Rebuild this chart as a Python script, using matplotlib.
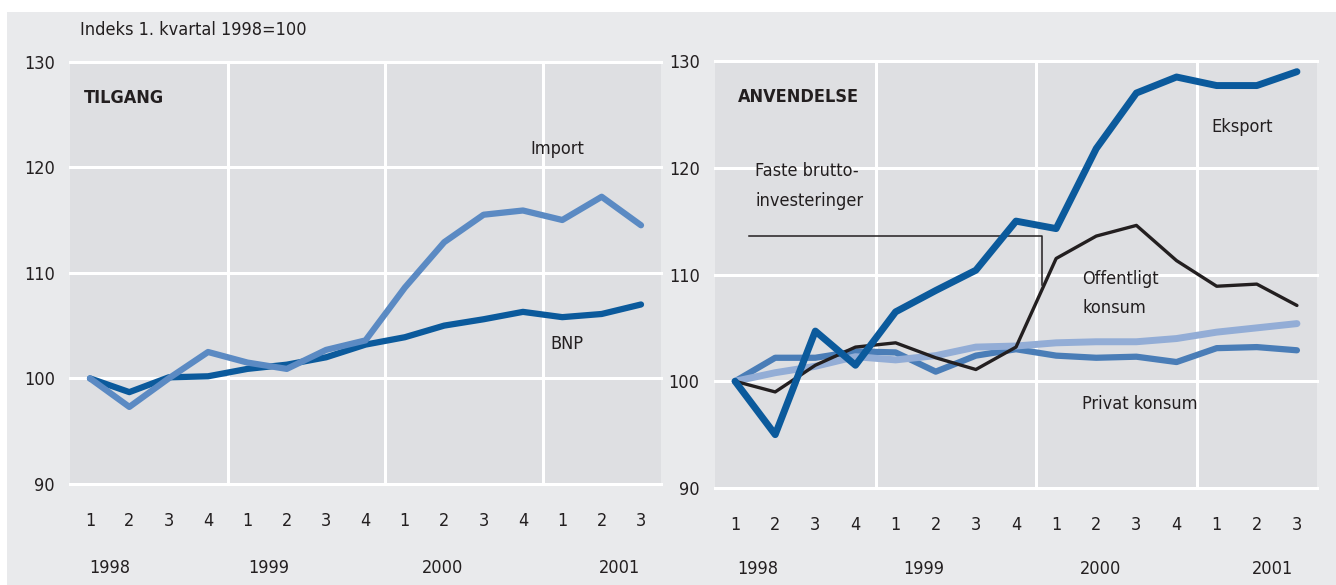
import numpy as np
import matplotlib
matplotlib.use('Agg')
import matplotlib.pyplot as plt
from matplotlib.patches import Rectangle

plt.rcParams['font.family'] = ['DejaVu Sans']
plt.rcParams['font.stretch'] = 'condensed'

# Quarters 1998 Q1 - 2001 Q3
quarters = ['1', '2', '3', '4', '1', '2', '3', '4', '1', '2', '3', '4', '1', '2', '3']
years = ['1998', '1999', '2000', '2001']

# TILGANG
bnp = [100, 98.7, 100.1, 100.2, 100.9, 101.3, 102.0, 103.2, 103.9, 105.0, 105.6, 106.3, 105.8, 106.1, 107.0]
imp = [100, 97.3, 100.0, 102.5, 101.5, 100.9, 102.7, 103.6, 108.6, 112.9, 115.5, 115.9, 115.0, 117.2, 114.5]

# ANVENDELSE
eksport = [100, 95.0, 104.7, 101.5, 106.5, 108.5, 110.4, 115.0, 114.3, 121.8, 127.0, 128.5, 127.7, 127.7, 129.0]
faste_inv = [100, 99.0, 101.5, 103.2, 103.6, 102.2, 101.1, 103.2, 111.5, 113.6, 114.6, 111.3, 108.9, 109.1, 107.1]
offentlig = [100, 102.2, 102.2, 102.8, 102.7, 100.9, 102.4, 103.0, 102.4, 102.2, 102.3, 101.8, 103.1, 103.2, 102.9]
privat = [100, 100.8, 101.4, 102.3, 102.0, 102.4, 103.2, 103.3, 103.6, 103.7, 103.7, 104.0, 104.6, 105.0, 105.4]

x = np.arange(len(quarters))

W, H = 1336, 585
fig = plt.figure(figsize=(W / 100, H / 100), dpi=100)
fig.patch.set_facecolor('white')
fig.patches.append(Rectangle((7 / W, 0), 1 - 7 / W, 1 - 12 / H, transform=fig.transFigure,
                             facecolor='#e9eaec', edgecolor='none', zorder=-10))

dark = '#0b5a9c'
mid = '#5b8ac3'
mid2 = '#4a7db7'
light = '#93add6'
black = '#231f20'
txt = '#231f20'
fs = 13


def setup(ax, year_pos, year_y):
    ax.set_facecolor('#dedfe2')
    ax.set_xlim(-0.5, 14.5)
    ax.set_ylim(90, 130)
    for s in ax.spines.values():
        s.set_visible(False)
    for gx in [3.5, 7.5, 11.5]:
        ax.axvline(gx, color='white', lw=2.2, zorder=1)
    for gy in [90, 100, 110, 120, 130]:
        ax.axhline(gy, color='white', lw=2.2, zorder=1, clip_on=False)
    ax.set_yticks([90, 100, 110, 120, 130])
    ax.set_xticks(x)
    ax.set_xticklabels(quarters)
    ax.tick_params(length=0, labelsize=fs, colors=txt)
    ax.tick_params(axis='y', pad=11)
    ax.tick_params(axis='x', pad=20)
    for yp, yr in zip(year_pos, years):
        ax.text(yp, year_y, yr, transform=ax.get_xaxis_transform(), ha='center', va='center',
                fontsize=fs, color=txt)


# Left panel
ax1 = fig.add_axes([70.3 / W, 1 - 484 / H, 590.4 / W, 422.4 / H])
setup(ax1, [0.5, 4.55, 8.95, 13.45], -0.2)
ax1.plot(x, bnp, color=dark, lw=4.5, solid_capstyle='round', solid_joinstyle='round', zorder=3)
ax1.plot(x, imp, color=mid, lw=4.5, solid_capstyle='round', solid_joinstyle='round', zorder=4)
ax1.text(-0.15, 126.6, 'TILGANG', fontsize=fs, fontweight='bold', color=txt, va='center')
ax1.text(11.18, 121.7, 'Import', fontsize=fs, color=txt, va='center')
ax1.text(11.7, 103.3, 'BNP', fontsize=fs, color=txt, va='center')
fig.text(80 / W, 1 - 30 / H, 'Indeks 1. kvartal 1998=100', fontsize=fs, color=txt, va='center')

# Right panel
ax2 = fig.add_axes([715 / W, 1 - 488 / H, 602 / W, 427 / H])
setup(ax2, [0.57, 4.7, 9.1, 13.4], -0.19)
ax2.plot(x, offentlig, color=mid2, lw=4.5, solid_capstyle='round', solid_joinstyle='round', zorder=3)
ax2.plot(x, privat, color=light, lw=5, solid_capstyle='round', solid_joinstyle='round', zorder=4)
ax2.plot(x, faste_inv, color=black, lw=2.4, solid_capstyle='round', solid_joinstyle='round', zorder=5)
ax2.plot(x, eksport, color=dark, lw=5, solid_capstyle='round', solid_joinstyle='round', zorder=6)
# leader line for Faste bruttoinvesteringer
ax2.plot([0.35, 7.65, 7.65], [113.6, 113.6, 109.0], color=black, lw=1.1, zorder=5)
ax2.text(0.07, 126.6, 'ANVENDELSE', fontsize=fs, fontweight='bold', color=txt, va='center')
ax2.text(11.87, 123.8, 'Eksport', fontsize=fs, color=txt, va='center')
ax2.text(0.5, 119.7, 'Faste brutto-', fontsize=fs, color=txt, va='center')
ax2.text(0.5, 116.9, 'investeringer', fontsize=fs, color=txt, va='center')
ax2.text(8.65, 109.6, 'Offentligt', fontsize=fs, color=txt, va='center')
ax2.text(8.65, 106.9, 'konsum', fontsize=fs, color=txt, va='center')
ax2.text(8.65, 97.9, 'Privat konsum', fontsize=fs, color=txt, va='center')

fig.savefig('out.png', dpi=100)
